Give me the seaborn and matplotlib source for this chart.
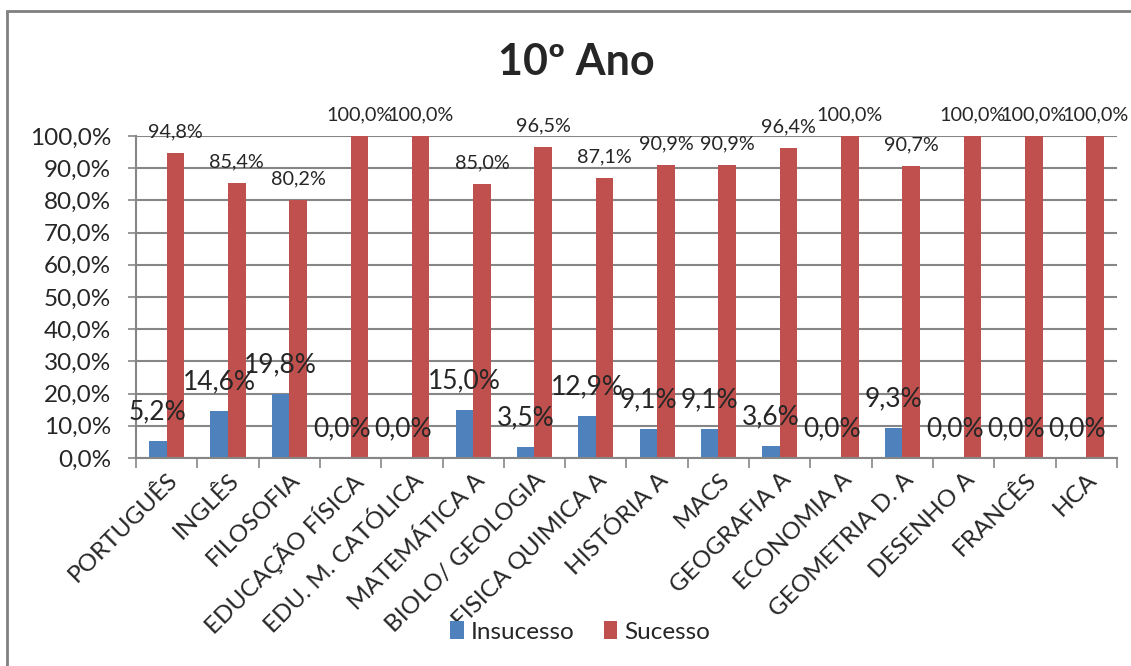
import numpy as np
import pandas as pd
import matplotlib
matplotlib.use('Agg')
import matplotlib.pyplot as plt
import seaborn as sns
from matplotlib.patches import Rectangle
from matplotlib.ticker import FuncFormatter, FixedLocator

# Data
disciplinas = ['PORTUGUÊS', 'INGLÊS', 'FILOSOFIA', 'EDUCAÇÃO FÍSICA', 'EDU. M. CATÓLICA',
               'MATEMÁTICA A', 'BIOLO/ GEOLOGIA', 'FISICA QUIMICA A', 'HISTÓRIA A', 'MACS',
               'GEOGRAFIA A', 'ECONOMIA A', 'GEOMETRIA D. A', 'DESENHO A', 'FRANCÊS', 'HCA']
insucesso = [5.2, 14.6, 19.8, 0.0, 0.0, 15.0, 3.5, 12.9, 9.1, 9.1, 3.6, 0.0, 9.3, 0.0, 0.0, 0.0]
sucesso = [94.8, 85.4, 80.2, 100.0, 100.0, 85.0, 96.5, 87.1, 90.9, 90.9, 96.4, 100.0, 90.7, 100.0, 100.0, 100.0]
series = ['Insucesso', 'Sucesso']
cores = ['#4F81BD', '#C0504D']

df = pd.DataFrame({
    'disciplina': disciplinas * 2,
    'valor': insucesso + sucesso,
    'serie': ['Insucesso'] * len(disciplinas) + ['Sucesso'] * len(disciplinas),
})

sns.set_style('white')
plt.rcParams['font.family'] = ['Lato', 'DejaVu Sans']

fig = plt.figure(figsize=(11.31, 6.66), dpi=100)
ax = fig.add_axes([0.1202, 0.3123, 0.8674, 0.4835])

sns.barplot(data=df, x='disciplina', y='valor', hue='serie', hue_order=series,
            palette=cores, saturation=1, width=0.574, edgecolor='none', ax=ax, legend=True)

def pct(v):
    return f'{v:.1f}%'.replace('.', ',')

ax.bar_label(ax.containers[0], labels=[pct(v) for v in insucesso], fontsize=19, padding=12)
ax.bar_label(ax.containers[1], labels=[pct(v) for v in sucesso], fontsize=14.3, padding=9)

ax.set_ylim(0, 100)
ax.set_xlim(-0.5, len(disciplinas) - 0.5)
ax.set_yticks(np.arange(0, 101, 10))
ax.yaxis.set_major_formatter(FuncFormatter(lambda v, p: pct(v)))
ax.yaxis.grid(True, color='#868686', linewidth=1.5)
ax.set_axisbelow(True)
ax.set_xlabel('')
ax.set_ylabel('')

ax.tick_params(axis='y', labelsize=17.5, length=6, width=1.2, color='#868686', left=True, pad=12)
ax.tick_params(axis='x', which='major', length=0, labelsize=17.5, pad=8)
ax.xaxis.set_minor_locator(FixedLocator(np.arange(-0.5, len(disciplinas), 1)))
ax.tick_params(axis='x', which='minor', length=7, width=1.2, color='#868686', bottom=True)
plt.setp(ax.get_xticklabels(), rotation=45, ha='right', rotation_mode='anchor')

for s in ['top', 'right']:
    ax.spines[s].set_visible(False)
for s in ['left', 'bottom']:
    ax.spines[s].set_color('#868686')
    ax.spines[s].set_linewidth(1.5)

ax.legend(loc='center', bbox_to_anchor=(0.513, 0.051), bbox_transform=fig.transFigure,
          ncol=2, frameon=False, fontsize=17.5, handlelength=0.55, handleheight=0.75,
          handletextpad=0.3, columnspacing=1.2)

fig.text(0.51, 0.907, '10º Ano', ha='center', va='center', fontsize=31, fontweight='bold')

# outer chart border
fig.patches.append(Rectangle((0.0066, -0.1), 1.2, 1.084, transform=fig.transFigure,
                             fill=False, edgecolor='#808080', linewidth=2))

fig.savefig('out.png', dpi=100)
